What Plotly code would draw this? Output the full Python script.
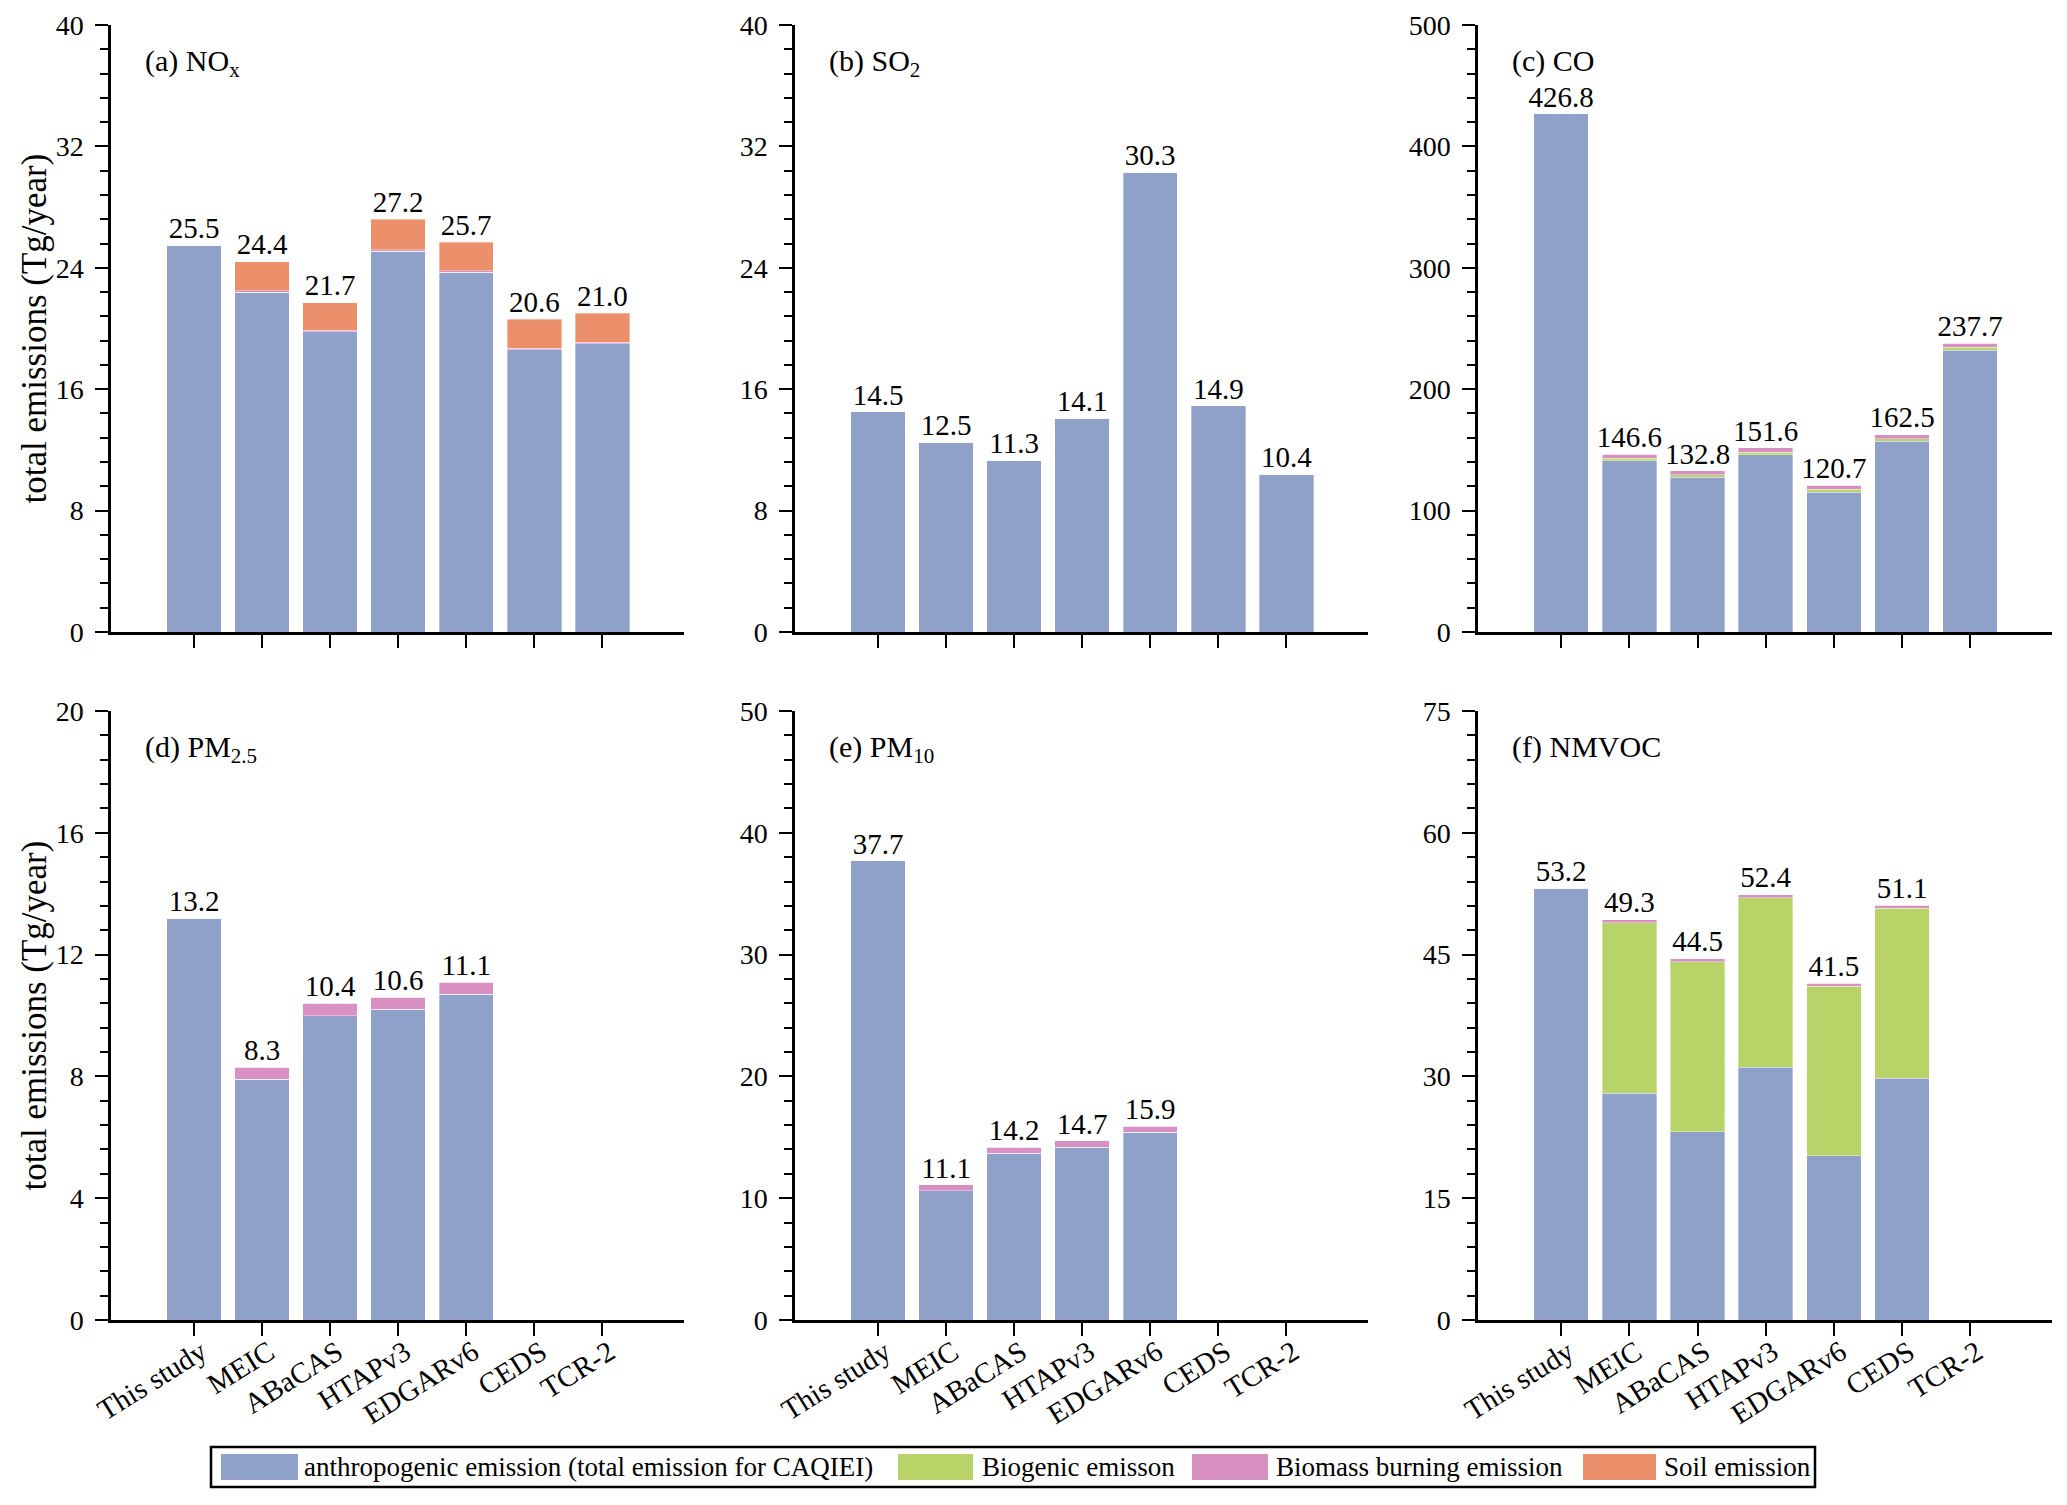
import plotly.graph_objects as go

categories = ["This study", "MEIC", "ABaCAS", "HTAPv3", "EDGARv6", "CEDS", "TCR-2"]

# (a) NOx
nox_anthro = [25.5, 22.4, 19.8, 25.1, 23.7, 18.6, 19.0]
nox_bio = [0, 0, 0, 0, 0, 0, 0]
nox_bb = [0, 0.1, 0.1, 0.1, 0.1, 0.1, 0.1]
nox_soil = [0, 1.9, 1.8, 2.0, 1.9, 1.9, 1.9]
nox_total = [25.5, 24.4, 21.7, 27.2, 25.7, 20.6, 21.0]

# (b) SO2
so2_anthro = [14.5, 12.5, 11.3, 14.1, 30.3, 14.9, 10.4]
so2_bio = [0, 0, 0, 0, 0, 0, 0]
so2_bb = [0, 0, 0, 0, 0, 0, 0]
so2_soil = [0, 0, 0, 0, 0, 0, 0]
so2_total = [14.5, 12.5, 11.3, 14.1, 30.3, 14.9, 10.4]

# (c) CO
co_anthro = [426.8, 141.0, 127.4, 146.0, 115.3, 157.0, 232.0]
co_bio = [0, 2.2, 2.2, 2.2, 2.2, 2.2, 2.4]
co_bb = [0, 3.4, 3.2, 3.4, 3.2, 3.3, 3.3]
co_soil = [0, 0, 0, 0, 0, 0, 0]
co_total = [426.8, 146.6, 132.8, 151.6, 120.7, 162.5, 237.7]

# (d) PM2.5
pm25_anthro = [13.2, 7.9, 10.0, 10.2, 10.7, None, None]
pm25_bio = [0, 0, 0, 0, 0, None, None]
pm25_bb = [0, 0.4, 0.4, 0.4, 0.4, None, None]
pm25_soil = [0, 0, 0, 0, 0, None, None]
pm25_total = [13.2, 8.3, 10.4, 10.6, 11.1, None, None]

# (e) PM10
pm10_anthro = [37.7, 10.6, 13.7, 14.2, 15.4, None, None]
pm10_bio = [0, 0, 0, 0, 0, None, None]
pm10_bb = [0, 0.5, 0.5, 0.5, 0.5, None, None]
pm10_soil = [0, 0, 0, 0, 0, None, None]
pm10_total = [37.7, 11.1, 14.2, 14.7, 15.9, None, None]

# (f) NMVOC
nmvoc_anthro = [53.2, 27.9, 23.2, 31.1, 20.2, 29.8, None]
nmvoc_bio = [0, 21.0, 20.9, 20.9, 20.9, 20.9, None]
nmvoc_bb = [0, 0.4, 0.4, 0.4, 0.4, 0.4, None]
nmvoc_soil = [0, 0, 0, 0, 0, 0, None]
nmvoc_total = [53.2, 49.3, 44.5, 52.4, 41.5, 51.1, None]

panel_titles = ["(a) NO<sub>x</sub>", "(b) SO<sub>2</sub>", "(c) CO",
                "(d) PM<sub>2.5</sub>", "(e) PM<sub>10</sub>", "(f) NMVOC"]
y_max = [40, 40, 500, 20, 50, 75]
y_dtick = [8, 8, 100, 4, 10, 15]

series_names = ["anthropogenic emission (total emission for CAQIEI)",
                "Biogenic emisson", "Biomass burning emission", "Soil emission"]
colors = ["#8FA1C8", "#B8D468", "#D890C3", "#EC8F6B"]

panels = [
    (nox_anthro, nox_bio, nox_bb, nox_soil, nox_total),
    (so2_anthro, so2_bio, so2_bb, so2_soil, so2_total),
    (co_anthro, co_bio, co_bb, co_soil, co_total),
    (pm25_anthro, pm25_bio, pm25_bb, pm25_soil, pm25_total),
    (pm10_anthro, pm10_bio, pm10_bb, pm10_soil, pm10_total),
    (nmvoc_anthro, nmvoc_bio, nmvoc_bb, nmvoc_soil, nmvoc_total),
]

W, H = 2067, 1505
OFF = 8  # page body margin compensation
FONT = "Liberation Serif"
xpos = list(range(len(categories)))


def px(v):
    return (v - OFF) / W


def py(v):
    return 1 - (v - OFF) / H


col_px = [(111, 684), (795, 1368), (1478, 2052)]
row_px = [(25, 632), (711, 1320)]

fig = go.Figure()
layout = dict(width=W, height=H, margin=dict(l=0, r=0, t=0, b=0, pad=0, autoexpand=False),
              paper_bgcolor="white", plot_bgcolor="white", barmode="stack",
              bargap=0.2, showlegend=False, font=dict(family=FONT, color="black", size=28))
annotations = []
shapes = []

for i, comps in enumerate(panels):
    r, c = divmod(i, 3)
    n = i + 1
    xa = "x" if n == 1 else f"x{n}"
    ya = "y" if n == 1 else f"y{n}"
    for k in range(4):
        fig.add_trace(go.Bar(x=xpos, y=comps[k], xaxis=xa, yaxis=ya, width=0.8,
                             marker=dict(color=colors[k], line=dict(color="rgba(255,255,255,0.6)", width=0.6)),
                             name=series_names[k], showlegend=False))
    totals = comps[4]
    lx = [xpos[j] for j, v in enumerate(totals) if v is not None]
    ly = [v for v in totals if v is not None]
    fig.add_trace(go.Scatter(x=lx, y=ly, xaxis=xa, yaxis=ya, mode="text",
                             text=["%.1f" % v for v in ly],
                             textposition="top center", textfont=dict(size=29, family=FONT, color="black"),
                             cliponaxis=False, showlegend=False, hoverinfo="skip"))
    x0, x1 = col_px[c]
    yt, yb = row_px[r]
    layout[f"xaxis{'' if n == 1 else n}"] = dict(
        domain=[px(x0), px(x1)], anchor=ya, range=[-1.22, 7.2], automargin=False,
        tickvals=xpos, ticktext=categories, tickangle=-32,
        ticklabelstandoff=-12, ticklabelshift=7,
        showticklabels=(r == 1), ticks="outside", ticklen=13, tickwidth=2, tickcolor="black",
        showline=True, linewidth=3, linecolor="black", showgrid=False, zeroline=False,
        tickfont=dict(size=29, family=FONT, color="black"))
    layout[f"yaxis{'' if n == 1 else n}"] = dict(
        domain=[py(yb), py(yt)], anchor=xa, range=[0, y_max[i]], automargin=False,
        tick0=0, dtick=y_dtick[i], ticks="outside", ticklen=13, tickwidth=2, tickcolor="black",
        showline=True, linewidth=2.5, linecolor="black", showgrid=False, zeroline=False,
        ticklabelstandoff=6,
        tickfont=dict(size=28, family=FONT, color="black"),
        minor=dict(dtick=y_dtick[i] / 5, tick0=0, ticks="outside", ticklen=8, tickwidth=2,
                   tickcolor="black", showgrid=False))
    annotations.append(dict(text=panel_titles[i], xref=f"{xa} domain", yref=f"{ya} domain",
                            x=0.056, y=0.972, xanchor="left", yanchor="top", showarrow=False,
                            font=dict(size=30, family=FONT, color="black")))

# y-axis titles
for r in range(2):
    yt, yb = row_px[r]
    annotations.append(dict(text="total emissions (Tg/year)", xref="paper", yref="paper",
                            x=px(34), y=py((yt + yb) / 2), textangle=-90,
                            xanchor="center", yanchor="middle", showarrow=False,
                            font=dict(size=35, family=FONT, color="black")))

# legend box
shapes.append(dict(type="rect", xref="paper", yref="paper", x0=px(211), x1=px(1815),
                   y0=py(1487), y1=py(1447), line=dict(color="black", width=2.5),
                   fillcolor="white"))
sw_x = [(221, 298), (898, 973), (1192, 1268), (1583, 1656)]
txt_x = [302, 980, 1274, 1662]
for k in range(4):
    shapes.append(dict(type="rect", xref="paper", yref="paper", x0=px(sw_x[k][0]), x1=px(sw_x[k][1]),
                       y0=py(1480), y1=py(1454), line=dict(width=0), fillcolor=colors[k]))
    annotations.append(dict(text=series_names[k], xref="paper", yref="paper",
                            x=px(txt_x[k]), y=py(1467), xanchor="left", yanchor="middle",
                            showarrow=False, font=dict(size=27, family=FONT, color="black")))

layout["annotations"] = annotations
layout["shapes"] = shapes
fig.update_layout(**layout)
fig.write_html("out.html")
